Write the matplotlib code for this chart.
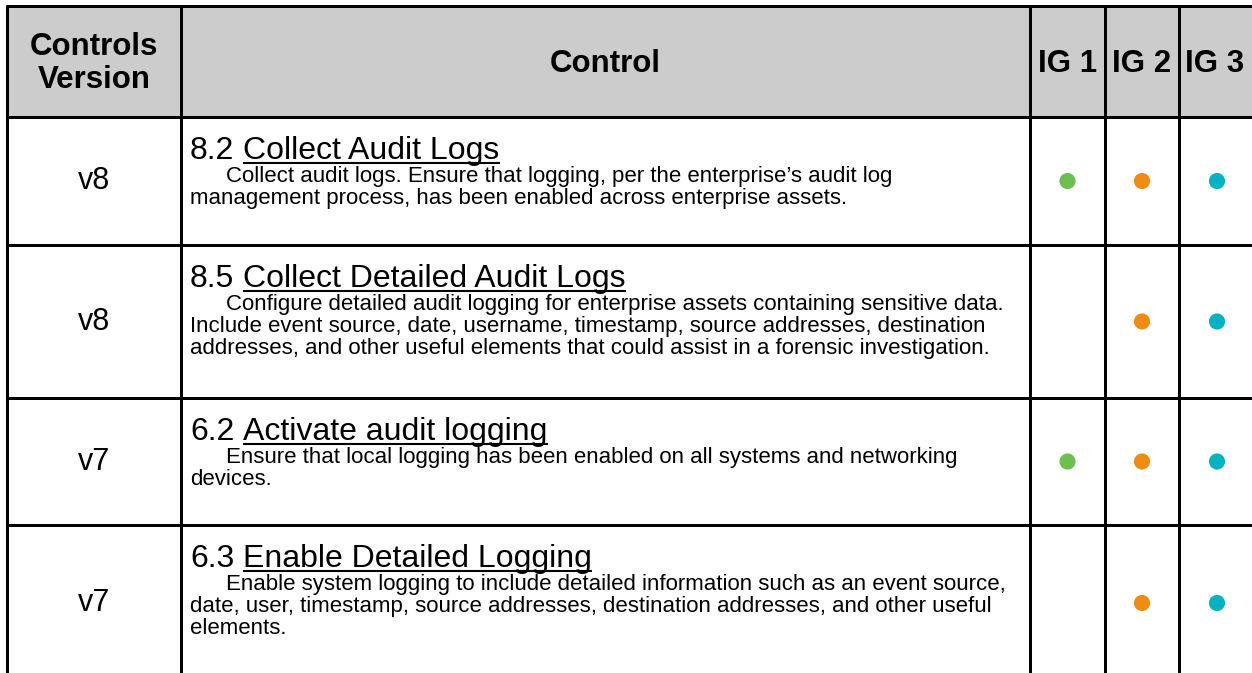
import matplotlib
matplotlib.use("Agg")
import matplotlib.pyplot as plt

plt.rcParams['font.family'] = ['Liberation Sans', 'DejaVu Sans']

# ---------------- data ----------------
header_labels = ["Controls\nVersion", "Control", "IG 1", "IG 2", "IG 3"]
versions = ["v8", "v8", "v7", "v7"]
control_ids = ["8.2", "8.5", "6.2", "6.3"]
control_titles = ["Collect Audit Logs", "Collect Detailed Audit Logs",
                  "Activate audit logging", "Enable Detailed Logging"]
descriptions = [
    ["Collect audit logs. Ensure that logging, per the enterprise\u2019s audit log",
     "management process, has been enabled across enterprise assets."],
    ["Configure detailed audit logging for enterprise assets containing sensitive data.",
     "Include event source, date, username, timestamp, source addresses, destination",
     "addresses, and other useful elements that could assist in a forensic investigation."],
    ["Ensure that local logging has been enabled on all systems and networking",
     "devices."],
    ["Enable system logging to include detailed information such as an event source,",
     "date, user, timestamp, source addresses, destination addresses, and other useful",
     "elements."],
]
ig1 = [True, False, True, False]
ig2 = [True, True, True, True]
ig3 = [True, True, True, True]
ig_colors = ["#6dbf4f", "#f28b12", "#00b2c2"]

# ---------------- layout (pixels) ----------------
W, H = 1252, 673
col_edges = [7, 181, 1030, 1105, 1179, W]
row_edges = [6, 117, 245, 398, 525, H]

fig = plt.figure(figsize=(W / 100, H / 100), dpi=100)
ax = fig.add_axes([0, 0, 1, 1])
ax.set_xlim(0, W)
ax.set_ylim(H, 0)
ax.axis("off")

# header background
ax.add_patch(plt.Rectangle((col_edges[0], row_edges[0]), W - col_edges[0],
                           row_edges[1] - row_edges[0], facecolor="#cccccc",
                           edgecolor="none", zorder=0))

lw = 3 * 72 / 100
for y in row_edges[:-1]:
    ax.plot([col_edges[0] - 1.5, W], [y, y], color="black", lw=lw,
            solid_capstyle="butt", zorder=3)
for x in col_edges[:-1]:
    ax.plot([x, x], [row_edges[0] - 1.5, H], color="black", lw=lw,
            solid_capstyle="butt", zorder=3)

# header texts
hy = (row_edges[0] + row_edges[1]) / 2
for i, lab in enumerate(header_labels):
    cx = (col_edges[i] + col_edges[i + 1]) / 2
    if i == 4:
        cx = (col_edges[4] + col_edges[5]) / 2 - 1
    ax.text(cx, hy + 2, lab, ha="center", va="center", fontsize=22.5,
            fontweight="bold", linespacing=1.15, color="black")

fig.canvas.draw()
renderer = fig.canvas.get_renderer()
inv = ax.transData.inverted()


def x_extent(t):
    bb = t.get_window_extent(renderer)
    (x0, _), (x1, _) = inv.transform([[bb.x0, bb.y0], [bb.x1, bb.y1]])
    return x0, x1


TITLE_FS = 23
BODY_FS = 16

# space width at title size
ta = ax.text(0, -100, "aa", fontsize=TITLE_FS)
tb = ax.text(0, -100, "a a", fontsize=TITLE_FS)
space_w = (x_extent(tb)[1] - x_extent(tb)[0]) - (x_extent(ta)[1] - x_extent(ta)[0])
ta.remove()
tb.remove()

text_x = 190
indent = 36
for r in range(4):
    top, bot = row_edges[r + 1], row_edges[r + 2]
    cy = (top + bot) / 2
    if r == 3:
        cy = 603
    # version
    ax.text((col_edges[0] + col_edges[1]) / 2, cy, versions[r], ha="center",
            va="center", fontsize=22, color="black")
    # title
    base = top + 42
    t_id = ax.text(text_x, base, control_ids[r], ha="left", va="baseline",
                   fontsize=TITLE_FS, color="black")
    fig.canvas.draw()
    x1 = x_extent(t_id)[1]
    t_name = ax.text(x1 + space_w, base, control_titles[r], ha="left",
                     va="baseline", fontsize=TITLE_FS, color="black")
    fig.canvas.draw()
    n0, n1 = x_extent(t_name)
    ax.plot([n0, n1], [base + 3.5, base + 3.5], color="black", lw=1.5,
            solid_capstyle="butt")
    # description
    for k, line in enumerate(descriptions[r]):
        ax.text(text_x + (indent if k == 0 else 0), base + 23 + 22 * k, line,
                ha="left", va="baseline", fontsize=BODY_FS, color="black")
    # dots
    for j, flags in enumerate([ig1, ig2, ig3]):
        if flags[r]:
            cx = (col_edges[2 + j] + col_edges[3 + j]) / 2
            if j == 2:
                cx = 1217
            ax.scatter([cx], [cy], s=135, color=ig_colors[j], edgecolors="none",
                       zorder=4)

fig.savefig("out.png", dpi=100)
